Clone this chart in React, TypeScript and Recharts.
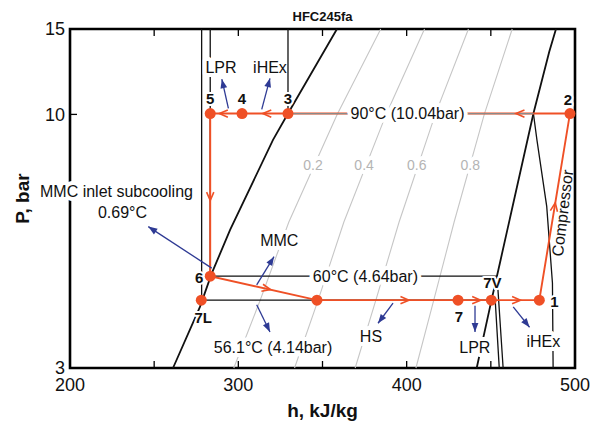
import React from "react";
import { ComposedChart, Line, Scatter, XAxis, YAxis, ReferenceArea } from "recharts";

const FONT = '"Liberation Sans", Arial, Helvetica, sans-serif';
const ORANGE = "#ef5026";
const NAVY = "#2e3a94";
const QGRAY = "#c6c6c6";

const W = 604;
const H = 426;
const MARGIN = { top: 29, right: 29, bottom: 6, left: 8 };
const Y_AXIS_W = 62;
const X_AXIS_H = 52;
const H_MIN = 200;
const H_MAX = 500;
const P_MIN = 3;
const P_MAX = 15;

// axis ticks
const hTicks = [200, 300, 400, 500];
const pTicks = [3, 10, 15];
const hMinorTicks = [250, 300, 350, 400, 450];

// saturation dome (h kJ/kg, P bar)
const satLiquidH = [358.6, 329.5, 320.6, 295.1, 284.2, 277.2, 261.2];
const satLiquidP = [15, 10.04, 8.86, 5.78, 4.7, 4.01, 3];
const satVaporH = [488.7, 484.7, 475.3, 455.4, 450.4, 441.6];
const satVaporP = [15, 13.46, 10.04, 4.94, 4.14, 3];

// isotherms
const iso90LiqH = [329.5, 329.5];
const iso90LiqP = [15, 10.04];
const iso90FlatH = [329.5, 475.3];
const iso90FlatP = [10.04, 10.04];
const iso90VapH = [475.3, 477.4, 483.2, 486.6, 487];
const iso90VapP = [10.04, 8.85, 6.46, 4.49, 3];
const iso60H = [283.3, 283.3, 453.7, 457.3];
const iso60P = [15, 4.64, 4.64, 3];
const iso56H = [278.2, 278.2, 452.6, 455];
const iso56P = [15, 4.14, 4.14, 3];

// vapour quality lines
const qualityP = [15, 10, 6, 4.14, 3];
const quality02H = [384.6, 358.7, 330.0, 313.0, 297.3];
const quality04H = [410.6, 387.8, 362.7, 347.4, 333.4];
const quality06H = [436.7, 417.0, 395.5, 381.7, 369.4];
const quality08H = [462.7, 446.1, 428.2, 416.1, 405.5];
const qualityNames = ["0.2", "0.4", "0.6", "0.8"];
const qualityLabelH = [344.4, 374.7, 406.0, 437.8];
const qualityLabelP = 7.85;

// cycle 1 -> 2 -> 3 -> 4 -> 5 -> 6 -> (mix) -> 7 -> 7V -> 1
const cycleNames = ["1", "2", "3", "4", "5", "6", "", "7", "7V", "1"];
const cycleH = [478.8, 497, 329.5, 302.2, 283.3, 283.3, 346.7, 430.5, 450.3, 478.8];
const cycleP = [4.14, 10.04, 10.04, 10.04, 10.04, 4.64, 4.14, 4.14, 4.14, 4.14];
const point7LH = 278;
const point7LP = 4.14;

// flow direction marks on the cycle (segment index = from-point)
const flowArrowH = [487.9, 467.3, 316.9, 291.1, 283.3, 316.8, 399, 441.6, 465.3];
const flowArrowP = [6.45, 10.04, 10.04, 10.04, 6.77, 4.37, 4.14, 4.14, 4.14];
const flowArrowSeg = [0, 1, 2, 3, 4, 5, 6, 7, 8];

// blue pointer arrows: tail -> head
const pointerFromH = [294.1, 313.9, 284.2, 310.9, 310.9, 391.9, 440.6, 463.3];
const pointerFromP = [10.29, 10.24, 4.82, 4.45, 4.05, 4.08, 4.03, 4.01];
const pointerToH = [290.2, 318.8, 246.5, 321.2, 318.8, 383.0, 440.6, 473.0];
const pointerToP = [11.82, 11.87, 5.87, 5.09, 3.56, 3.71, 3.56, 3.64];

// annotation texts
const notes = [
  { text: "LPR", h: 289.7, p: 12.52, halo: true },
  { text: "iHEx", h: 318.8, p: 12.52 },
  { text: "MMC inlet subcooling", h: 227.6, p: 6.95, halo: true },
  { text: "0.69°C", h: 231.2, p: 6.28 },
  { text: "MMC", h: 324.3, p: 5.49, halo: true },
  { text: "56.1°C (4.14bar)", h: 320.6, p: 3.31, halo: true },
  { text: "HS", h: 378.8, p: 3.48, halo: true },
  { text: "LPR", h: 440.5, p: 3.31, halo: true },
  { text: "iHEx", h: 481.2, p: 3.4, halo: true },
  { text: "60°C (4.64bar)", h: 375.5, p: 4.64, halo: true },
  { text: "90°C (10.04bar)", h: 400.5, p: 10.04, halo: true },
  { text: "Compressor", h: 492.6, p: 6.26, angle: -83 },
];

// label placement for the state points (px offsets)
const labelOffset: Record<string, [number, number]> = {
  "1": [15, 1],
  "2": [-2, -14],
  "3": [0, -15],
  "4": [0, -15],
  "5": [0, -15],
  "6": [-11, 1],
  "7L": [2, 17],
  "7": [1, 16],
  "7V": [1, -18],
};

const PLOT_W = W - MARGIN.left - Y_AXIS_W - MARGIN.right;
const PLOT_H = H - MARGIN.top - MARGIN.bottom - X_AXIS_H;
const KX = PLOT_W / (H_MAX - H_MIN);
const KY = PLOT_H / Math.log10(P_MAX / P_MIN);
const screenAngle = (h1: number, p1: number, h2: number, p2: number) =>
  Math.atan2(-(Math.log10(p2) - Math.log10(p1)) * KY, (h2 - h1) * KX);

const pts = (hs: number[], ps: number[]) => hs.map((h, i) => ({ h, p: ps[i] }));

const cyclePts = cycleH.map((h, i) => ({ h, p: cycleP[i] }));
const statePts = [
  ...cycleH.slice(0, 9).map((h, i) => ({ h, p: cycleP[i], name: cycleNames[i] })),
  { h: point7LH, p: point7LP, name: "7L" },
];
const flowPts = flowArrowH.map((h, i) => {
  const s = flowArrowSeg[i];
  return {
    h,
    p: flowArrowP[i],
    angle: screenAngle(cycleH[s], cycleP[s], cycleH[s + 1], cycleP[s + 1]),
  };
});
const pointerHeads = pointerToH.map((h, i) => ({
  h,
  p: pointerToP[i],
  angle: screenAngle(pointerFromH[i], pointerFromP[i], h, pointerToP[i]),
}));
const qualityLabelPts = qualityNames.map((text, i) => ({
  text,
  h: qualityLabelH[i],
  p: qualityLabelP,
  halo: true,
  color: "#b4b4b4",
  size: 14,
}));
const tickPts = [
  ...hMinorTicks.map((h) => ({ h, p: P_MIN, dx: 0, dy: -7 })),
  ...hMinorTicks.map((h) => ({ h, p: P_MAX, dx: 0, dy: 7 })),
  { h: H_MIN, p: 10, dx: 7, dy: 0 },
  { h: H_MAX, p: 10, dx: -7, dy: 0 },
];

const FlowArrow = (props: any) => {
  const { cx, cy, payload } = props;
  const ux = Math.cos(payload.angle);
  const uy = Math.sin(payload.angle);
  const tx = cx + 4 * ux;
  const ty = cy + 4 * uy;
  const bx = cx - 4.5 * ux;
  const by = cy - 4.5 * uy;
  return (
    <path
      d={`M${bx - 3.6 * uy},${by + 3.6 * ux} L${tx},${ty} L${bx + 3.6 * uy},${by - 3.6 * ux}`}
      fill="none"
      stroke={ORANGE}
      strokeWidth={1.6}
    />
  );
};

const PointerHead = (props: any) => {
  const { cx, cy, payload } = props;
  const ux = Math.cos(payload.angle);
  const uy = Math.sin(payload.angle);
  const bx = cx - 9 * ux;
  const by = cy - 9 * uy;
  return (
    <path
      d={`M${cx},${cy} L${bx - 3.4 * uy},${by + 3.4 * ux} L${bx + 3.4 * uy},${by - 3.4 * ux} Z`}
      fill={NAVY}
    />
  );
};

const NoteText = (props: any) => {
  const { cx, cy, payload: n } = props;
  return (
    <text
      x={cx}
      y={cy}
      textAnchor="middle"
      dominantBaseline="central"
      fontFamily={FONT}
      fontSize={n.size ?? 16}
      fill={n.color ?? "#111"}
      stroke={n.halo ? "#fff" : "none"}
      strokeWidth={n.halo ? 8 : 0}
      strokeLinejoin="round"
      paintOrder="stroke"
      transform={n.angle ? `rotate(${n.angle} ${cx} ${cy})` : undefined}
    >
      {n.text}
    </text>
  );
};

const StatePoint = (props: any) => {
  const { cx, cy, payload } = props;
  const off = labelOffset[payload.name];
  return (
    <g>
      <circle cx={cx} cy={cy} r={5.5} fill={ORANGE} />
      {off && (
        <text
          x={cx + off[0]}
          y={cy + off[1]}
          textAnchor="middle"
          dominantBaseline="central"
          fontFamily={FONT}
          fontSize={15}
          fontWeight={700}
          fill="#111"
          stroke="#fff"
          strokeWidth={4}
          strokeLinejoin="round"
          paintOrder="stroke"
        >
          {payload.name}
        </text>
      )}
    </g>
  );
};

const TickMark = (props: any) => {
  const { cx, cy, payload } = props;
  return (
    <line x1={cx} y1={cy} x2={cx + payload.dx} y2={cy + payload.dy} stroke="#000" strokeWidth={1.3} />
  );
};

const blackLines = [
  { data: pts(satLiquidH, satLiquidP), w: 1.8 },
  { data: pts(satVaporH, satVaporP), w: 1.8 },
  { data: pts(iso90LiqH, iso90LiqP), w: 1.3 },
  { data: pts(iso90VapH, iso90VapP), w: 1.3 },
  { data: pts(iso60H, iso60P), w: 1.3 },
  { data: pts(iso56H, iso56P), w: 1.3 },
];
const qualityLines = [quality02H, quality04H, quality06H, quality08H].map((hs) => pts(hs, qualityP));

export default function App() {
  return (
    <div
      style={{
        position: "absolute",
        left: 0,
        top: 0,
        width: W,
        height: H,
        background: "#fff",
        fontFamily: FONT,
      }}
    >
      <div
        style={{
          position: "absolute",
          left: MARGIN.left + Y_AXIS_W,
          top: 9,
          width: PLOT_W,
          textAlign: "center",
          fontSize: 13,
          lineHeight: "15px",
          fontWeight: 700,
          color: "#111",
        }}
      >
        HFC245fa
      </div>
      <ComposedChart width={W} height={H} margin={MARGIN}>
        <XAxis
          dataKey="h"
          type="number"
          domain={[H_MIN, H_MAX]}
          ticks={hTicks}
          axisLine={false}
          tickLine={false}
          tickSize={0}
          tickMargin={10}
          height={X_AXIS_H}
          tick={{ fontSize: 18, fill: "#111", fontFamily: FONT }}
          label={{
            value: "h, kJ/kg",
            position: "insideBottom",
            offset: 3,
            fontSize: 19,
            fontWeight: 700,
            fill: "#111",
            style: { fontSize: 19, fontWeight: 700, fill: "#111", fontFamily: FONT },
          }}
        />
        <YAxis
          dataKey="p"
          type="number"
          scale="log"
          domain={[P_MIN, P_MAX]}
          ticks={pTicks}
          axisLine={false}
          tickLine={false}
          tickSize={0}
          tickMargin={5}
          width={Y_AXIS_W}
          tick={{ fontSize: 18, fill: "#111", fontFamily: FONT }}
          label={{
            value: "P, bar",
            angle: -90,
            position: "insideLeft",
            offset: 14,
            style: {
              textAnchor: "middle",
              fontSize: 19,
              fontWeight: 700,
              fill: "#111",
              fontFamily: FONT,
            },
          }}
        />

        {qualityLines.map((d, i) => (
          <Line
            key={`q${i}`}
            data={d}
            dataKey="p"
            type="linear"
            stroke={QGRAY}
            strokeWidth={1.1}
            dot={false}
            activeDot={false}
            isAnimationActive={false}
          />
        ))}
        {blackLines.map((l, i) => (
          <Line
            key={`b${i}`}
            data={l.data}
            dataKey="p"
            type="linear"
            stroke="#111"
            strokeWidth={l.w}
            dot={false}
            activeDot={false}
            isAnimationActive={false}
          />
        ))}
        <Line
          data={cyclePts}
          dataKey="p"
          type="linear"
          stroke={ORANGE}
          strokeWidth={1.9}
          dot={false}
          activeDot={false}
          isAnimationActive={false}
        />
        <Line
          data={pts(iso90FlatH, iso90FlatP)}
          dataKey="p"
          type="linear"
          stroke="#8a8a8a"
          strokeWidth={1.2}
          dot={false}
          activeDot={false}
          isAnimationActive={false}
        />
        {pointerFromH.map((h, i) => (
          <Line
            key={`a${i}`}
            data={[
              { h, p: pointerFromP[i] },
              { h: pointerToH[i], p: pointerToP[i] },
            ]}
            dataKey="p"
            type="linear"
            stroke={NAVY}
            strokeWidth={1.3}
            dot={false}
            activeDot={false}
            isAnimationActive={false}
          />
        ))}

        <ReferenceArea
          x1={H_MIN}
          x2={H_MAX}
          y1={P_MIN}
          y2={P_MAX}
          fill="none"
          stroke="#000"
          strokeWidth={2.6}
          ifOverflow="visible"
        />

        <Scatter data={tickPts} shape={TickMark} isAnimationActive={false} />
        <Scatter data={pointerHeads} shape={PointerHead} isAnimationActive={false} />
        <Scatter data={flowPts} shape={FlowArrow} isAnimationActive={false} />
        <Scatter data={qualityLabelPts} shape={NoteText} isAnimationActive={false} />
        <Scatter data={notes} shape={NoteText} isAnimationActive={false} />
        <Scatter data={statePts} shape={StatePoint} isAnimationActive={false} />
      </ComposedChart>
    </div>
  );
}
